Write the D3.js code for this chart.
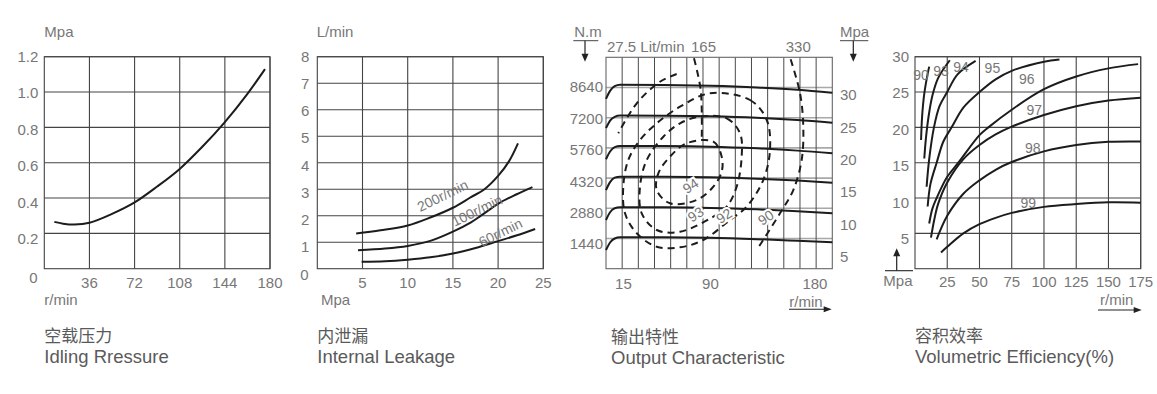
<!DOCTYPE html>
<html>
<head>
<meta charset="utf-8">
<script src="https://cdn.jsdelivr.net/npm/d3@7"></script>
<style>
body { margin: 0; background: #fff; }
text { font-family: "Liberation Sans", Arial, sans-serif; fill: #777; font-size: 15px; }
.title-cn { font-family: "Noto Sans CJK SC", sans-serif; font-size: 17px; fill: #5a5a5a; }
.title-en { font-size: 18.5px; fill: #5a5a5a; }
.grid { stroke: #444; stroke-width: 1.1; fill: none; }
.curve { fill: none; stroke: #1c1c1c; stroke-width: 2; }
.dash { fill: none; stroke: #1c1c1c; stroke-width: 2; stroke-dasharray: 7,5; }
.small { font-size: 14px; }
</style>
</head>
<body>
<div id="graphic"></div>
<script>
// ---------- 空载压力 Idling pressure ----------
var idleSpeed    = [8, 15, 24, 36, 54, 72, 90, 108, 126, 144, 162, 176];
var idlePressure = [0.265, 0.255, 0.25, 0.26, 0.31, 0.375, 0.465, 0.565, 0.69, 0.83, 0.99, 1.13];
var idleXTicks = [36, 72, 108, 144, 180];
var idleYTicks = [0.2, 0.4, 0.6, 0.8, 1.0, 1.2];

// ---------- 内泄漏 Internal leakage ----------
var leak200P = [4.3, 7, 10, 12.5, 15, 17, 18.5, 20, 21.2, 22.2];
var leak200Q = [1.33, 1.45, 1.63, 1.93, 2.3, 2.7, 3.0, 3.5, 4.05, 4.73];
var leak100P = [4.5, 7.5, 10, 12.5, 15, 17, 18.1, 20, 22, 23.8];
var leak100Q = [0.7, 0.76, 0.86, 1.05, 1.4, 1.75, 2.0, 2.45, 2.8, 3.08];
var leak60P  = [4.9, 7.5, 10, 12.5, 15, 17.5, 20, 22, 24.1];
var leak60Q  = [0.26, 0.28, 0.34, 0.43, 0.57, 0.78, 1.04, 1.25, 1.5];
var leakLabels = ["200r/min", "100r/min", "60r/min"];
var leakLabelPos = [[14.1, 2.59], [17.9, 2.03], [20.5, 1.2]];
var leakXTicks = [5, 10, 15, 20, 25];
var leakYTicks = [1, 2, 3, 4, 5, 6, 7, 8];

// ---------- 输出特性 Output characteristic ----------
var outSpeed = [0, 3.5, 7.5, 12, 50, 90, 130, 165, 195];
var torque8640 = [8100, 8480, 8700, 8770, 8760, 8720, 8640, 8530, 8390];
var torque7200 = [6700, 7060, 7240, 7300, 7295, 7270, 7200, 7090, 6960];
var torque5760 = [5220, 5590, 5800, 5850, 5845, 5820, 5740, 5630, 5500];
var torque4320 = [3750, 4130, 4340, 4390, 4385, 4360, 4290, 4200, 4100];
var torque2880 = [2320, 2690, 2880, 2930, 2925, 2900, 2830, 2740, 2640];
var torque1440 = [890, 1250, 1440, 1500, 1495, 1475, 1410, 1330, 1260];
var eff94 = [[69.5,5980],[92.5,6060],[99.7,5340],[99.7,4625],[92.5,3910],[78.2,3276],[55.1,3118],[43.7,3752],[45.1,4549],[55.1,5340]];
var eff93 = [[81,7247],[104,7171],[115.5,6456],[116.9,5340],[112.6,3910],[104,2956],[92.5,2479],[63.8,1764],[43.7,1845],[30.8,2641],[29.3,3910],[35.1,5183],[49.4,6294],[63.8,6933]];
var eff92 = [[89.6,8363],[124.1,8044],[138.5,7090],[141.3,5660],[135.5,4229],[121.2,2956],[106.8,2322],[83.8,1368],[63.8,1020],[43.7,1049],[26.5,1688],[16.4,2641],[14.9,3910],[19.2,5183],[29.3,6136],[43.7,6933],[63.8,7724]];
var eff90Left = [[60.9,9283],[46.5,8916],[26.5,7886],[10.6,6456]];
var eff90Right = [[159.1,9984],[167.2,8363],[170,6770],[168.6,5183],[161.4,3752],[149.9,2641],[129.9,891]];
var flow165 = [[75.8,10032],[81.6,8520],[82.5,6136]];
var effLabels = ["94", "93", "92", "90"];
var effLabelPos = [[75.2,3752],[79.6,2398],[104,2320],[140.1,2241]];
var outXTicks = [15, 90, 180];
var outTorqueTicks = [1440, 2880, 4320, 5760, 7200, 8640];
var outPressureTicks = [5, 10, 15, 20, 25, 30];
var outFlowLabels = ["165", "330"];
var outFlowLabelAt = [84, 165.7];

// ---------- 容积效率 Volumetric efficiency ----------
var vol90 = [[4.7,18.2],[5.5,21.5],[7,24.5],[9,26.8],[11,28.6]];
var vol93 = [[7.2,15.6],[8.5,18.5],[10.5,21.5],[13.5,24.5],[18,27],[27,29.5]];
var vol94 = [[9,11.6],[11,15.5],[14.7,20],[19,23],[25,25],[33,27.5],[47,29.4]];
var vol95 = [[9.8,8.8],[12,12],[16.8,15],[22,18],[28.4,20],[37.5,22.8],[50,25],[62.5,26.8],[75,28],[100,29.3],[112,29.6]];
var vol96 = [[11,6.4],[13.5,8.5],[16.8,10],[25,13],[33.6,15],[50,18.9],[56.9,20],[75,22.5],[100,25.4],[125,27.2],[150,28.35],[173,28.95]];
var vol97 = [[12.4,4.4],[15,7],[18,9.2],[25,12.2],[37.5,15.5],[50,17.5],[62.5,19],[75,20.1],[100,21.75],[125,23],[150,23.8],[175,24.2]];
var vol98 = [[16.8,4.15],[20,5.6],[25,7.5],[37.5,10.6],[50,12.5],[62.5,14],[75,15.1],[100,16.6],[125,17.5],[150,17.95],[175,18.0]];
var vol99 = [[20.2,2.3],[25,3.1],[37.5,5.0],[50,6.3],[62.5,7.2],[75,7.9],[100,8.75],[125,9.15],[150,9.4],[175,9.35]];
var volLabels = ["90", "93", "94", "95", "96", "97", "98", "99"];
var volLabelPos = [[4.65,27.4],[20.2,28.0],[35.7,28.6],[60,28.4],[86.6,26.8],[92.5,22.45],[91.3,17.1],[87.9,9.25]];
var volXTicks = [25, 50, 75, 100, 125, 150, 175];
var volYTicks = [5, 10, 15, 20, 25, 30];


var svg = d3.select("#graphic").append("svg")
    .attr("width", 1157)
    .attr("height", 394);

function panel(l, t){
    return svg.append("g").attr("transform", "translate(" + l + "," + t + ")");
}

function gridLines(g, x, y, xs, ys, w, h){
    g.selectAll(null).data(xs).enter().append("line")
        .attr("class", "grid")
        .attr("x1", x).attr("x2", x)
        .attr("y1", 0).attr("y2", h);
    g.selectAll(null).data(ys).enter().append("line")
        .attr("class", "grid")
        .attr("x1", 0).attr("x2", w)
        .attr("y1", y).attr("y2", y);
    g.append("rect").attr("class", "grid")
        .attr("width", w).attr("height", h);
}

function titles(g, dx, cn, en){
    g.append("text").attr("class", "title-cn").attr("x", dx).attr("y", 285.5).text(cn);
    g.append("text").attr("class", "title-en").attr("x", dx).attr("y", 306.5).text(en);
}

function arrowHead(g, x, y, dir){
    var p;
    if(dir == "down") p = [[x-3.5,y-8],[x+3.5,y-8],[x,y]];
    else if(dir == "up") p = [[x-3.5,y+8],[x+3.5,y+8],[x,y]];
    else p = [[x-8,y-3],[x-8,y+3],[x,y]];
    g.append("path").attr("d", "M" + p.join("L") + "Z").attr("fill", "#222");
}

// ======== chart 1 ========
(function(){
    var w = 225.7, h = 212;
    var g = panel(44.3, 56.7);
    var x = d3.scaleLinear().domain([0, 180]).range([0, w]);
    var y = d3.scaleLinear().domain([0, 1.2]).range([h, 0]);
    gridLines(g, function(d){ return x(d); }, function(d){ return y(d); },
        idleXTicks, idleYTicks, w, h);

    var line = d3.line()
        .x(function(d){ return x(d[0]); })
        .y(function(d){ return y(d[1]); })
        .curve(d3.curveCatmullRom);
    g.append("path").attr("class", "curve").attr("d", line(d3.zip(idleSpeed, idlePressure)));

    g.selectAll(null).data(idleXTicks).enter().append("text")
        .attr("x", function(d){ return x(d); })
        .attr("y", h + 19.5)
        .attr("text-anchor", "middle")
        .text(function(d){ return d; });
    g.selectAll(null).data(idleYTicks).enter().append("text")
        .attr("x", -6)
        .attr("y", function(d){ return y(d) + 5 + (1.2 - d) * 6; })
        .attr("text-anchor", "end")
        .text(function(d){ return d3.format(".1f")(d); });
    g.append("text").attr("x", -11).attr("y", h + 14.6).attr("text-anchor", "middle").text("0");
    g.append("text").attr("x", 0).attr("y", -20).text("Mpa");
    g.append("text").attr("x", 0).attr("y", h + 36.3).text("r/min");
    titles(g, 0, "空载压力", "Idling Rressure");
})();

// ======== chart 2 ========
(function(){
    var w = 226, h = 212;
    var g = panel(317.3, 56.7);
    var x = d3.scaleLinear().domain([0, 25]).range([0, w]);
    var y = d3.scaleLinear().domain([0, 8]).range([h, 0]);
    gridLines(g, function(d){ return x(d); }, function(d){ return y(d); },
        leakXTicks, leakYTicks, w, h);

    var line = d3.line()
        .x(function(d){ return x(d[0]); })
        .y(function(d){ return y(d[1]); })
        .curve(d3.curveCatmullRom);
    [[leak200P, leak200Q], [leak100P, leak100Q], [leak60P, leak60Q]].forEach(function(s){
        g.append("path").attr("class", "curve").attr("d", line(d3.zip(s[0], s[1])));
    });
    g.selectAll(null).data(leakLabels).enter().append("text")
        .attr("class", "small")
        .attr("text-anchor", "middle")
        .attr("transform", function(d, i){
            return "translate(" + x(leakLabelPos[i][0]) + "," + y(leakLabelPos[i][1]) + ") rotate(-26)";
        })
        .text(function(d){ return d; });

    g.selectAll(null).data(leakXTicks).enter().append("text")
        .attr("x", function(d){ return x(d); })
        .attr("y", h + 19.5)
        .attr("text-anchor", "middle")
        .text(function(d){ return d; });
    g.selectAll(null).data(leakYTicks).enter().append("text")
        .attr("x", -8)
        .attr("y", function(d){ return y(d) + 5 + (8 - d) * 0.75; })
        .attr("text-anchor", "end")
        .text(function(d){ return d; });
    g.append("text").attr("x", -13).attr("y", h + 11.3).attr("text-anchor", "middle").text("0");
    g.append("text").attr("x", -0.6).attr("y", -20).text("L/min");
    g.append("text").attr("x", 3.7).attr("y", h + 36.5).text("Mpa");
    titles(g, 0, "内泄漏", "Internal Leakage");
})();

// ======== chart 3 ========
(function(){
    var w = 226.3, h = 211.4;
    var g = panel(606, 57.3);
    var x = d3.scaleLinear().domain([0, 195]).range([0, w]);
    var t = d3.scaleLinear().domain([0, 10080]).range([h, 0]);
    var p = d3.scaleLinear().domain([3.2, 35.9]).range([h, 0]);
    var cols = d3.range(1, 14).map(function(i){ return i * 195 / 14; });

    g.selectAll(null).data(outTorqueTicks).enter().append("line")
        .attr("x1", 0).attr("x2", w)
        .attr("y1", function(d){ return t(d); }).attr("y2", function(d){ return t(d); })
        .attr("stroke", "#a8a8a8").attr("stroke-width", 1.6);
    g.selectAll(null).data(cols).enter().append("line")
        .attr("x1", function(d){ return x(d); }).attr("x2", function(d){ return x(d); })
        .attr("y1", 0).attr("y2", h)
        .attr("stroke", "#4a4a4a").attr("stroke-width", 1);
    g.append("rect").attr("width", w).attr("height", h)
        .attr("fill", "none").attr("stroke", "#666").attr("stroke-width", 1.1);

    var line = d3.line()
        .x(function(d){ return x(d[0]); })
        .y(function(d){ return t(d[1]); })
        .curve(d3.curveMonotoneX);
    [torque8640, torque7200, torque5760, torque4320, torque2880, torque1440].forEach(function(s){
        g.append("path").attr("class", "curve").attr("d", line(d3.zip(outSpeed, s)));
    });

    var closed = d3.line()
        .x(function(d){ return x(d[0]); })
        .y(function(d){ return t(d[1]); })
        .curve(d3.curveCatmullRomClosed);
    var open = d3.line()
        .x(function(d){ return x(d[0]); })
        .y(function(d){ return t(d[1]); })
        .curve(d3.curveCatmullRom);
    [eff94, eff93, eff92].forEach(function(s){
        g.append("path").attr("class", "dash").attr("d", closed(s));
    });
    [eff90Left, eff90Right, flow165].forEach(function(s){
        g.append("path").attr("class", "dash").attr("d", open(s));
    });
    g.selectAll(null).data(effLabels).enter().append("text")
        .attr("class", "small")
        .attr("text-anchor", "middle")
        .attr("stroke", "#fff").attr("stroke-width", 4).attr("paint-order", "stroke")
        .attr("transform", function(d, i){
            return "translate(" + x(effLabelPos[i][0]) + "," + t(effLabelPos[i][1]) + ") rotate(-33)";
        })
        .text(function(d){ return d; });

    g.selectAll(null).data(outXTicks).enter().append("text")
        .attr("x", function(d){ return x(d); })
        .attr("y", h + 20.5)
        .attr("text-anchor", "middle")
        .text(function(d){ return d; });
    g.selectAll(null).data(outTorqueTicks).enter().append("text")
        .attr("x", -3)
        .attr("y", function(d){ return t(d) + 5 + (8640 - d) / 1440 * 1.15; })
        .attr("text-anchor", "end")
        .text(function(d){ return d; });
    g.selectAll(null).data(outPressureTicks).enter().append("text")
        .attr("x", w + 7.7)
        .attr("y", function(d){ return p(d) + 5; })
        .text(function(d){ return d; });

    // flow labels along the top
    g.append("text").attr("x", 1).attr("y", -5).text("27.5 Lit/min");
    g.selectAll(null).data(outFlowLabels).enter().append("text")
        .attr("x", function(d, i){ return x(outFlowLabelAt[i]); })
        .attr("y", -5)
        .attr("text-anchor", "middle")
        .text(function(d){ return d; });

    // N.m with arrow
    g.append("text").attr("x", -18).attr("y", -20).attr("text-anchor", "middle").text("N.m");
    g.append("line").attr("x1", -32.7).attr("x2", -7.7).attr("y1", -16.6).attr("y2", -16.6)
        .attr("stroke", "#444").attr("stroke-width", 1);
    g.append("line").attr("x1", -21).attr("x2", -21).attr("y1", -16.6).attr("y2", -2)
        .attr("stroke", "#222").attr("stroke-width", 1.2);
    arrowHead(g, -21, 4.4, "down");
    // Mpa with arrow
    g.append("text").attr("x", w + 7.7).attr("y", -20).text("Mpa");
    g.append("line").attr("x1", w + 7.7).attr("x2", w + 36).attr("y1", -16.6).attr("y2", -16.6)
        .attr("stroke", "#444").attr("stroke-width", 1);
    g.append("line").attr("x1", w + 21).attr("x2", w + 21).attr("y1", -16.6).attr("y2", -2)
        .attr("stroke", "#222").attr("stroke-width", 1.2);
    arrowHead(g, w + 21, 4.4, "down");
    // r/min with arrow
    g.append("text").attr("x", w - 43).attr("y", h + 38).text("r/min");
    g.append("line").attr("x1", w - 43.3).attr("x2", w - 4).attr("y1", h + 40.6).attr("y2", h + 40.6)
        .attr("stroke", "#222").attr("stroke-width", 1.1);
    arrowHead(g, w - 0.6, h + 40.6, "right");

    titles(g, 5, "输出特性", "Output Characteristic");
})();

// ======== chart 4 ========
(function(){
    var w = 225.7, h = 212;
    var g = panel(915, 56.7);
    var x = d3.scaleLinear().domain([0, 175]).range([0, w]);
    var y = d3.scaleLinear().domain([0, 30]).range([h, 0]);
    gridLines(g, function(d){ return x(d); }, function(d){ return y(d); },
        volXTicks, volYTicks, w, h);

    var line = d3.line()
        .x(function(d){ return x(d[0]); })
        .y(function(d){ return y(d[1]); })
        .curve(d3.curveCatmullRom);
    [vol90, vol93, vol94, vol95, vol96, vol97, vol98, vol99].forEach(function(s){
        g.append("path").attr("class", "curve").attr("d", line(s));
    });
    g.selectAll(null).data(volLabels).enter().append("text")
        .attr("class", "small")
        .attr("text-anchor", "middle")
        .attr("x", function(d, i){ return x(volLabelPos[i][0]); })
        .attr("y", function(d, i){ return y(volLabelPos[i][1]) + 5; })
        .text(function(d){ return d; });

    g.selectAll(null).data(volXTicks).enter().append("text")
        .attr("x", function(d){ return x(d); })
        .attr("y", h + 18)
        .attr("text-anchor", "middle")
        .text(function(d){ return d; });
    g.selectAll(null).data(volYTicks).enter().append("text")
        .attr("x", -6)
        .attr("y", function(d){ return y(d) + 5 + (30 - d) * 0.24; })
        .attr("text-anchor", "end")
        .text(function(d){ return d; });

    // Mpa with up arrow
    g.append("text").attr("x", -31.7).attr("y", h + 17.3).text("Mpa");
    g.append("line").attr("x1", -30).attr("x2", -2).attr("y1", h + 2).attr("y2", h + 2)
        .attr("stroke", "#222").attr("stroke-width", 1.1);
    g.append("line").attr("x1", -18.3).attr("x2", -18.3).attr("y1", h + 2).attr("y2", h - 14)
        .attr("stroke", "#222").attr("stroke-width", 1.2);
    arrowHead(g, -18.3, h - 20.5, "up");
    // r/min with arrow
    g.append("text").attr("x", w - 40.7).attr("y", h + 36.6).text("r/min");
    g.append("line").attr("x1", w - 42.7).attr("x2", w - 4).attr("y1", h + 41.3).attr("y2", h + 41.3)
        .attr("stroke", "#222").attr("stroke-width", 1.1);
    arrowHead(g, w + 1, h + 41.3, "right");

    titles(g, 0, "容积效率", "Volumetric Efficiency(%)");
})();
</script>
</body>
</html>
